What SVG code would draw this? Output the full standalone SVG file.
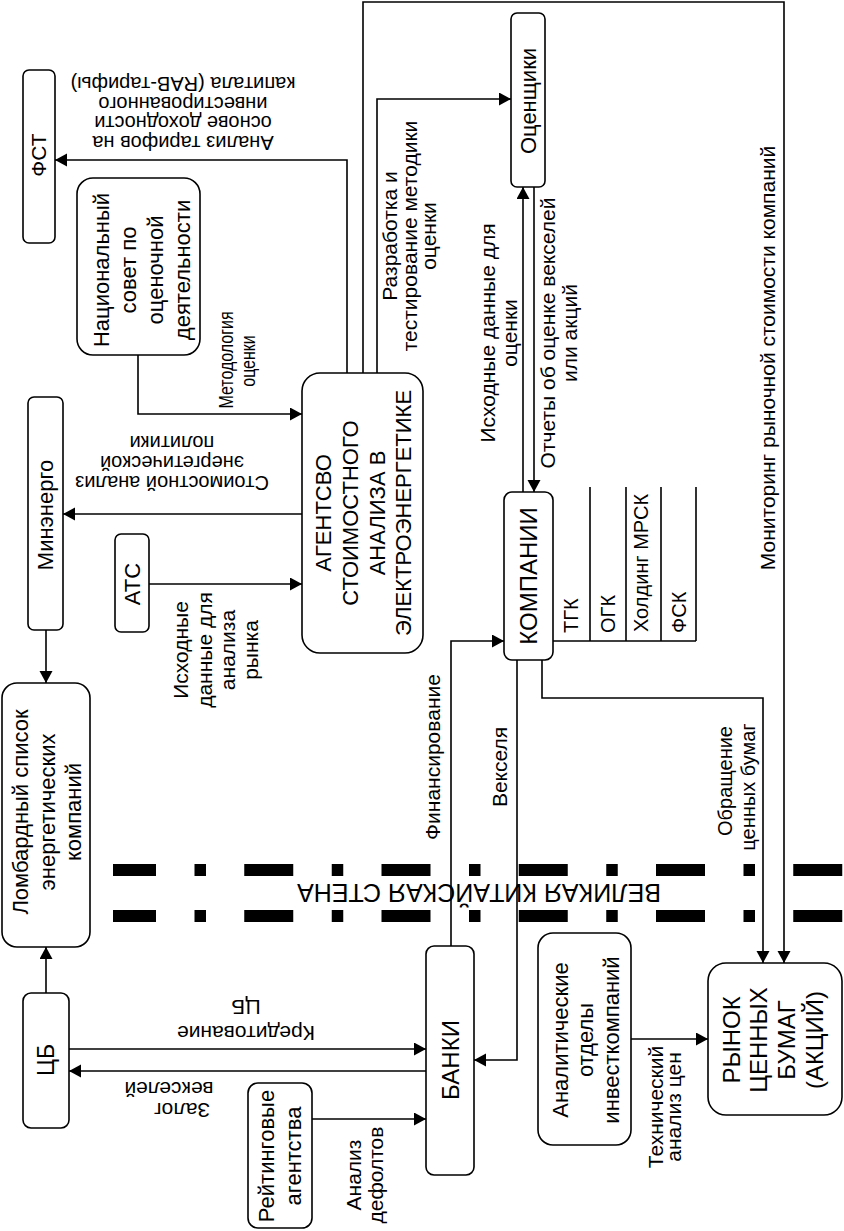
<svg xmlns="http://www.w3.org/2000/svg" width="844" height="1231" viewBox="0 0 844 1231">
<style>
text{font-family:"Liberation Sans",Arial,sans-serif;fill:#000}
.n rect{fill:#fff;stroke:#000;stroke-width:1.6}
.c path{fill:none;stroke:#000;stroke-width:1.6}
.a{marker-end:url(#ah)}
.t22{font-size:22px}
.t24{font-size:24px}
.l{font-size:21px}
.u{font-size:20px}
.wall{fill:none;stroke:#000;stroke-width:12;stroke-dasharray:49 38.5 11.5 38.25;stroke-dashoffset:6}
</style>
<defs>
<marker id="ah" markerUnits="userSpaceOnUse" markerWidth="14" markerHeight="14" refX="12" refY="6.5" orient="auto">
<path d="M0,0 L12,6.5 L0,13 Z" fill="#000"/>
</marker>
</defs>
<rect width="844" height="1231" fill="#fff"/>

<g id="wall">
<line class="wall" x1="113" y1="870" x2="844" y2="870"/>
<line class="wall" x1="113" y1="916" x2="844" y2="916"/>
<text transform="translate(479,884) rotate(180)" text-anchor="middle" style="font-size:25px">ВЕЛИКАЯ КИТАЙСКАЯ СТЕНА</text>
</g>

<g class="c" id="connectors">
<path class="a" d="M347,373 V160 H55"/>
<path class="a" d="M363,373 V2 H784 V963"/>
<path class="a" d="M377,373 V99 H511"/>
<path class="a" d="M138,355 V414 H302"/>
<path class="a" d="M302,514 H63"/>
<path class="a" d="M149,584 H302"/>
<path class="a" d="M46,630 V683"/>
<path class="a" d="M46,993 V947"/>
<path class="a" d="M69,1049 H426"/>
<path class="a" d="M426,1071 H69"/>
<path class="a" d="M312,1119 H426"/>
<path class="a" d="M451,946 V641 H504"/>
<path class="a" d="M517,660 V1060 H474"/>
<path class="a" d="M542,660 V698 H763 V963"/>
<path class="a" d="M523,492 V187"/>
<path class="a" d="M534,187 V492"/>
<path class="a" d="M631,1039 H708"/>
<path d="M553,641 H696 M590,487 V641 M626,487 V641 M661,487 V641 M696,487 V641"/>
</g>

<g id="labels" class="l">
<text class="u" transform="translate(183,136) rotate(180)" text-anchor="middle"><tspan x="0" y="0">Анализ тарифов на</tspan><tspan x="0" y="19.7">основе доходности</tspan><tspan x="0" y="39.3">инвестированного</tspan><tspan x="0" y="59">капитала (RAB-тарифы)</tspan></text>
<text class="u" transform="translate(172,476) rotate(180)" text-anchor="middle"><tspan x="0" y="0">Стоимостной анализ</tspan><tspan x="0" y="20">энергетической</tspan><tspan x="0" y="40">политики</tspan></text>
<text transform="translate(246,1026) rotate(180)" text-anchor="middle"><tspan x="0" y="0">Кредитование</tspan><tspan x="0" y="26">ЦБ</tspan></text>
<text transform="translate(182,1103) rotate(180)" text-anchor="middle"><tspan x="0" y="0">Залог</tspan><tspan x="13" y="21">векселей</tspan></text>
<text transform="translate(233,360) rotate(-90) scale(1,1.3)" text-anchor="middle" style="font-size:16px">Методология</text>
<text transform="translate(255,361) rotate(-90) scale(1,1.3)" text-anchor="middle" style="font-size:16px">оценки</text>
<text transform="translate(397,236) rotate(-90)" text-anchor="middle"><tspan x="0" y="0">Разработка и</tspan><tspan x="0" y="19.5">тестирование методики</tspan><tspan x="0" y="39">оценки</tspan></text>
<text transform="translate(495,333) rotate(-90)" text-anchor="middle"><tspan x="0" y="0">Исходные данные для</tspan><tspan x="0" y="22">оценки</tspan></text>
<text transform="translate(555,333) rotate(-90)" text-anchor="middle"><tspan x="0" y="0">Отчеты об оценке векселей</tspan><tspan x="0" y="22">или акций</tspan></text>
<text transform="translate(775,358) rotate(-90)" text-anchor="middle">Мониторинг рыночной стоимости компаний</text>
<text transform="translate(188,650) rotate(-90)" text-anchor="middle"><tspan x="0" y="0">Исходные</tspan><tspan x="0" y="24">данные для</tspan><tspan x="0" y="47">анализа</tspan><tspan x="0" y="70">рынка</tspan></text>
<text transform="translate(361,1175) rotate(-90)" text-anchor="middle"><tspan x="0" y="0">Анализ</tspan><tspan x="0" y="22">дефолтов</tspan></text>
<text transform="translate(440,757) rotate(-90)" text-anchor="middle">Финансирование</text>
<text transform="translate(507,767) rotate(-90)" text-anchor="middle">Векселя</text>
<text transform="translate(732,781) rotate(-90)" text-anchor="middle" style="font-size:20px"><tspan x="0" y="0">Обращение</tspan><tspan x="-6" y="23">ценных бумаг</tspan></text>
<text transform="translate(663,1107) rotate(-90)" text-anchor="middle"><tspan x="0" y="0">Технический</tspan><tspan x="0" y="18">анализ цен</tspan></text>
</g>

<g id="fst" class="n"><rect x="23" y="70" width="32" height="173" rx="6"/><text style="font-size:21px" transform="translate(46,155) rotate(-90)" text-anchor="middle">ФСТ</text></g>
<g id="nsod" class="n"><rect x="77" y="178" width="123" height="177" rx="16"/><text class="t22" transform="translate(109,270) rotate(-90)" text-anchor="middle"><tspan x="0" y="0">Национальный</tspan><tspan x="0" y="27">совет по</tspan><tspan x="0" y="54">оценочной</tspan><tspan x="0" y="81">деятельности</tspan></text></g>
<g id="minenergo" class="n"><rect x="28" y="397" width="35" height="233" rx="6"/><text class="t22" transform="translate(53,515) rotate(-90)" text-anchor="middle">Минэнерго</text></g>
<g id="ats" class="n"><rect x="115" y="534" width="34" height="98" rx="6"/><text class="t22" transform="translate(140,584) rotate(-90)" text-anchor="middle">АТС</text></g>
<g id="agency" class="n"><rect x="302" y="373" width="121" height="280" rx="18"/><text class="t22" transform="translate(331,513) rotate(-90)" text-anchor="middle"><tspan x="0" y="0">АГЕНТСВО</tspan><tspan x="0" y="27">СТОИМОСТНОГО</tspan><tspan x="0" y="54">АНАЛИЗА В</tspan><tspan x="0" y="80">ЭЛЕКТРОЭНЕРГЕТИКЕ</tspan></text></g>
<g id="appraisers" class="n"><rect x="511" y="13" width="34" height="174" rx="6"/><text class="t22" transform="translate(536,101) rotate(-90)" text-anchor="middle">Оценщики</text></g>
<g id="companies" class="n"><rect x="504" y="492" width="49" height="168" rx="8"/><text class="t24" transform="translate(537,576) rotate(-90)" text-anchor="middle">КОМПАНИИ</text>
<text style="font-size:20px" transform="translate(578,633) rotate(-90)">ТГК</text>
<text style="font-size:20px" transform="translate(615,633) rotate(-90)">ОГК</text>
<text style="font-size:20px" transform="translate(648,632) rotate(-90)">Холдинг МРСК</text>
<text style="font-size:20px" transform="translate(686,633) rotate(-90)">ФСК</text></g>
<g id="lombard" class="n"><rect x="2" y="683" width="88" height="264" rx="15"/><text class="t22" transform="translate(28,812) rotate(-90)" text-anchor="middle"><tspan x="0" y="0">Ломбардный список</tspan><tspan x="0" y="26.5">энергетических</tspan><tspan x="0" y="53">компаний</tspan></text></g>
<g id="cb" class="n"><rect x="23" y="993" width="46" height="135" rx="8"/><text style="font-size:23px" transform="translate(54,1060) rotate(-90)" text-anchor="middle">ЦБ</text></g>
<g id="rating" class="n"><rect x="248" y="1083" width="64" height="145" rx="10"/><text class="t22" transform="translate(274,1156) rotate(-90)" text-anchor="middle"><tspan x="0" y="0">Рейтинговые</tspan><tspan x="0" y="27">агентства</tspan></text></g>
<g id="banks" class="n"><rect x="426" y="946" width="48" height="229" rx="8"/><text class="t24" transform="translate(459,1060) rotate(-90)" text-anchor="middle">БАНКИ</text></g>
<g id="analytics" class="n"><rect x="538" y="933" width="93" height="212" rx="15"/><text class="t22" transform="translate(568,1040) rotate(-90)" text-anchor="middle"><tspan x="0" y="0">Аналитические</tspan><tspan x="0" y="25">отделы</tspan><tspan x="0" y="51">инвесткомпаний</tspan></text></g>
<g id="market" class="n"><rect x="708" y="963" width="134" height="152" rx="18"/><text class="t24" transform="translate(740,1040) rotate(-90)" text-anchor="middle"><tspan x="0" y="0">РЫНОК</tspan><tspan x="0" y="27">ЦЕННЫХ</tspan><tspan x="0" y="55">БУМАГ</tspan><tspan x="0" y="83">(АКЦИЙ)</tspan></text></g>
</svg>
